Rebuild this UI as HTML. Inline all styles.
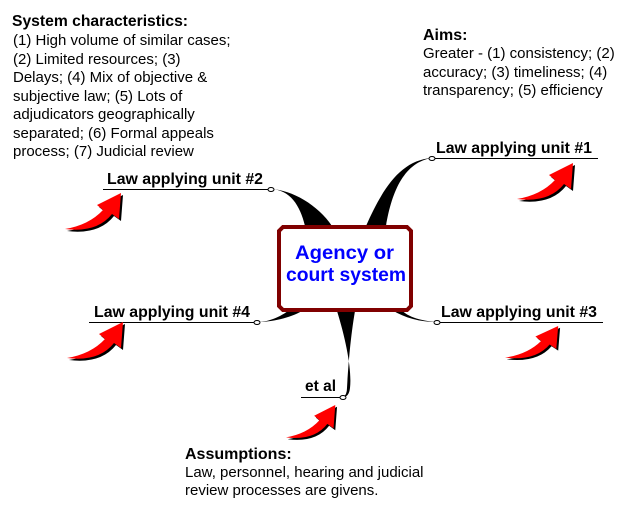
<!DOCTYPE html>
<html><head><meta charset="utf-8"><style>
html,body{margin:0;padding:0;background:#fff;}
svg{display:block;font-family:"Liberation Sans",Arial,sans-serif;}
</style></head><body>
<svg width="635" height="511" viewBox="0 0 635 511" xmlns="http://www.w3.org/2000/svg">
<defs>
<g id="ar">
<path transform="translate(2,2)" d="M0,36 Q24,32 38,17 L32,12 L56,0 L54,26 L47,21 Q32,40 0,36 Z" fill="#000"/>
<path d="M0,36 Q24,32 38,17 L32,12 L56,0 L54,26 L47,21 Q32,40 0,36 Z" fill="#f00"/>
</g>
</defs>
<path d="M305,226 C300,205 290,190 271,189 C292,190 318,205 332,226 Z" fill="#000"/>
<path d="M366,226 C382,190 400,160 432,158 C405,162 392,190 386,226 Z" fill="#000"/>
<path d="M292,308 C282,316 270,322 257,322 C272,322 290,318 302,311 Z" fill="#000"/>
<path d="M392,310 C405,318 420,322 437,322 C420,321 405,316 400,308 Z" fill="#000"/>
<path d="M337,311 C346,340 352,370 350,388 Q349,397 343,397 Q347,395 347,388 C348,370 350,340 355,311 Z" fill="#000"/>
<g stroke="#000" stroke-width="1">
<line x1="103" y1="189.5" x2="271" y2="189.5"/>
<line x1="89" y1="322.5" x2="257" y2="322.5"/>
<line x1="432" y1="158.5" x2="598" y2="158.5"/>
<line x1="437" y1="322.5" x2="603" y2="322.5"/>
<line x1="301" y1="397.5" x2="343" y2="397.5"/>
</g>
<g fill="#fff" stroke="#000" stroke-width="1">
<ellipse cx="271" cy="189.5" rx="3" ry="2"/>
<ellipse cx="257" cy="322.5" rx="3" ry="2"/>
<ellipse cx="432" cy="158.5" rx="3" ry="2"/>
<ellipse cx="437" cy="322.5" rx="3" ry="2"/>
<ellipse cx="343" cy="397.5" rx="3" ry="2"/>
</g>
<path d="M283,227 L407,227 L411,231 L411,306 L407,310 L283,310 L279,306 L279,231 Z" fill="#fff" stroke="#800000" stroke-width="4"/>
<g font-weight="bold" font-size="19" fill="#0000ff">
<text x="295" y="259" textLength="99" lengthAdjust="spacingAndGlyphs">Agency or</text>
<text x="286" y="281" textLength="120" lengthAdjust="spacingAndGlyphs">court system</text>
</g>
<g font-weight="bold" font-size="16" fill="#000" lengthAdjust="spacingAndGlyphs">
<text x="107" y="184" textLength="156" lengthAdjust="spacingAndGlyphs">Law applying unit #2</text>
<text x="94" y="317" textLength="156" lengthAdjust="spacingAndGlyphs">Law applying unit #4</text>
<text x="436" y="153" textLength="156" lengthAdjust="spacingAndGlyphs">Law applying unit #1</text>
<text x="441" y="317" textLength="156" lengthAdjust="spacingAndGlyphs">Law applying unit #3</text>
<text x="305" y="391" textLength="31" lengthAdjust="spacingAndGlyphs">et al</text>
<text x="12" y="26" textLength="176" lengthAdjust="spacingAndGlyphs">System characteristics:</text>
<text x="423" y="40">Aims:</text>
<text x="185" y="459">Assumptions:</text>
</g>
<g font-size="15" fill="#000">
<text x="13" y="45">(1) High volume of similar cases;</text>
<text x="13" y="64">(2) Limited resources; (3)</text>
<text x="13" y="82">Delays; (4) Mix of objective &amp;</text>
<text x="13" y="101">subjective law; (5) Lots of</text>
<text x="13" y="119">adjudicators geographically</text>
<text x="13" y="138">separated; (6) Formal appeals</text>
<text x="13" y="156">process; (7) Judicial review</text>
<text x="423" y="58">Greater - (1) consistency; (2)</text>
<text x="423" y="77">accuracy; (3) timeliness; (4)</text>
<text x="423" y="95">transparency; (5) efficiency</text>
<text x="185" y="477">Law, personnel, hearing and judicial</text>
<text x="185" y="495">review processes are givens.</text>
</g>
<use href="#ar" transform="translate(65,193)"/>
<use href="#ar" transform="translate(67,322)"/>
<use href="#ar" transform="translate(517,163)"/>
<use href="#ar" transform="translate(505,326) scale(0.95,0.88)"/>
<use href="#ar" transform="translate(286,405) scale(0.88,0.9)"/>
</svg>
</body></html>
